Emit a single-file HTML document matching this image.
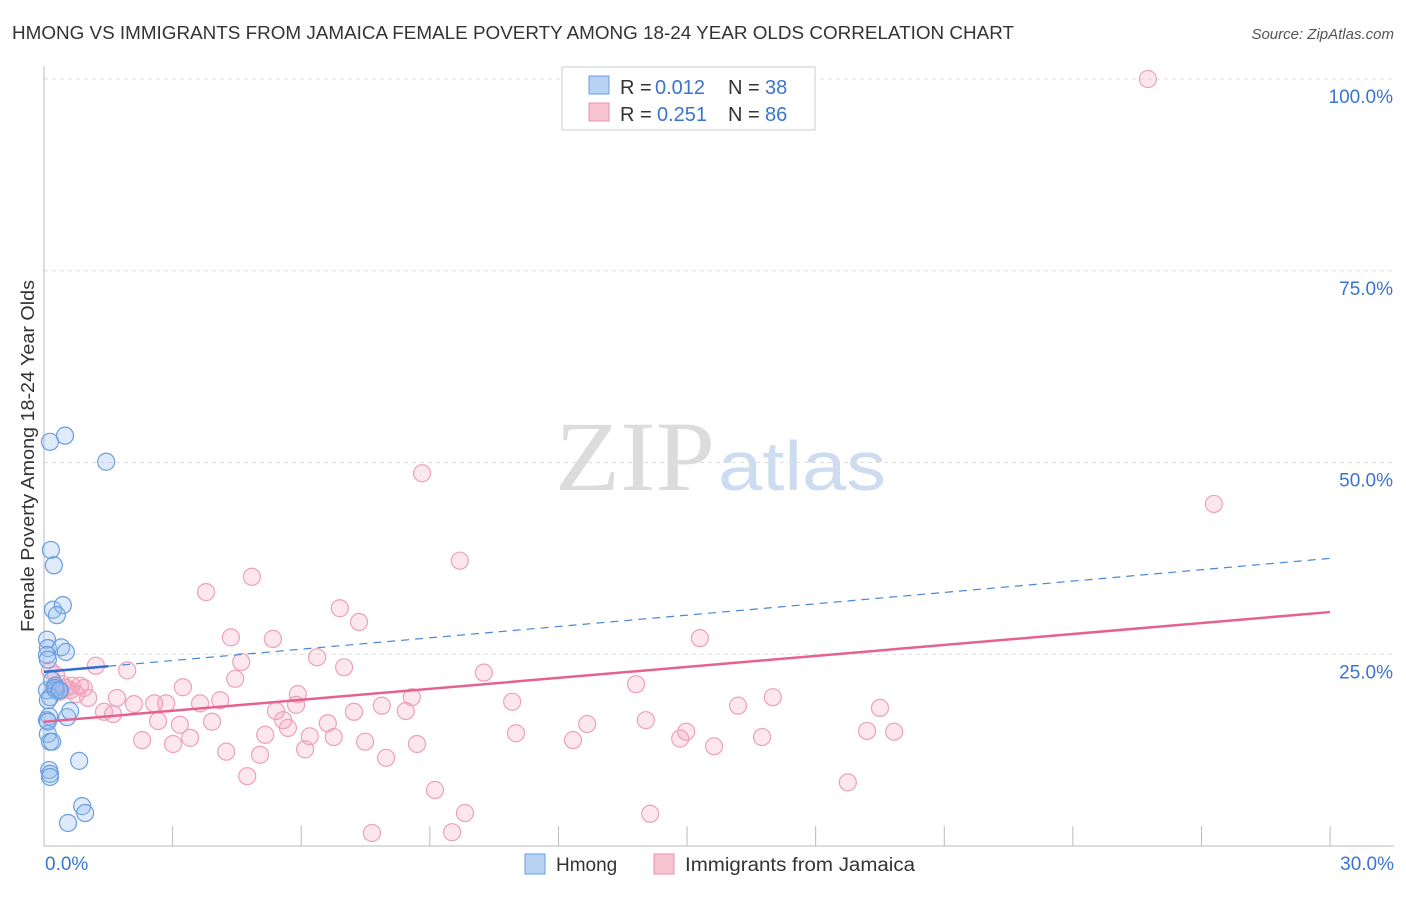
<!DOCTYPE html>
<html><head><meta charset="utf-8"><style>
body{margin:0;background:#fff;font-family:"Liberation Sans",sans-serif}
</style></head><body>
<svg id="c" width="1406" height="892" font-family="Liberation Sans, sans-serif">
<text x="12" y="39" font-size="18" fill="#333" textLength="1002" lengthAdjust="spacingAndGlyphs">HMONG VS IMMIGRANTS FROM JAMAICA FEMALE POVERTY AMONG 18-24 YEAR OLDS CORRELATION CHART</text>
<text x="1394" y="39" font-size="15" fill="#555" text-anchor="end" font-style="italic">Source: ZipAtlas.com</text>
<text x="555" y="490" font-size="100" fill="#dcdcdc" style="font-family:'Liberation Serif',serif" textLength="160" lengthAdjust="spacingAndGlyphs">ZIP</text>
<text x="718" y="490" font-size="70" fill="#cddcf0" textLength="168" lengthAdjust="spacingAndGlyphs">atlas</text>
<g id="grid"></g><g id="axes"></g><g id="marks"></g>
<text transform="translate(34,456) rotate(-90)" font-size="18" fill="#333" text-anchor="middle" textLength="352" lengthAdjust="spacingAndGlyphs">Female Poverty Among 18-24 Year Olds</text>
<g>
<rect x="562" y="67" width="253" height="63" fill="#fff" stroke="#ccc"/>
<rect x="589" y="76" width="20" height="18" fill="#b8d2f4" stroke="#6a9ee0"/>
<text x="620" y="94" font-size="20" fill="#333">R =</text><text x="655" y="94" font-size="20" fill="#3a74d0">0.012</text>
<text x="728" y="94" font-size="20" fill="#333">N =</text><text x="765" y="94" font-size="20" fill="#3a74d0">38</text>
<rect x="589" y="103" width="20" height="18" fill="#f8c4d2" stroke="#e890aa"/>
<text x="620" y="121" font-size="20" fill="#333">R =</text><text x="657" y="121" font-size="20" fill="#3a74d0">0.251</text>
<text x="728" y="121" font-size="20" fill="#333">N =</text><text x="765" y="121" font-size="20" fill="#3a74d0">86</text>
</g>
<g>
<rect x="525" y="854" width="20" height="20" fill="#b8d2f4" stroke="#6a9ee0"/>
<text x="556" y="871" font-size="19" fill="#333">Hmong</text>
<rect x="654" y="854" width="20" height="20" fill="#f8c4d2" stroke="#e890aa"/>
<text x="685" y="871" font-size="19" fill="#333" textLength="230" lengthAdjust="spacingAndGlyphs">Immigrants from Jamaica</text>
</g>
</svg>
<script>
const yTicks=[25,50,75,100];
const yTickLabels=["25.0%","50.0%","75.0%","100.0%"];
const xTicks=[0,3,6,9,12,15,18,21,24,27,30];
const xTickLabels=["0.0%","30.0%"];
const hmongX=[.14,.49,1.45,.16,.23,.21,.44,.30,.07,.09,.40,.51,.07,.09,.07,.19,.26,.35,.28,.14,.12,.07,.09,.14,.19,.82,.12,.14,.14,.89,.96,.56,.54,.61,.09,.26,.37,.09];
const hmongY=[52.7,53.5,50.1,38.6,36.6,30.8,31.4,30.1,26.9,25.8,25.9,25.3,24.9,24.3,20.3,21.6,20.9,20.3,20.3,19.4,16.9,16.4,14.6,13.6,13.6,11.1,9.9,9.4,9.0,5.2,4.3,3.0,16.8,17.6,16.2,20.6,20.3,19.0];
const jamX=[25.75,8.82,27.29,9.70,4.85,3.78,6.90,7.35,4.36,5.34,15.30,1.21,1.94,4.60,6.37,7.00,10.26,4.46,3.24,13.81,5.92,8.58,10.92,17.00,1.70,2.10,2.57,2.85,3.64,4.11,5.41,5.88,7.23,7.88,8.44,16.19,19.50,1.40,1.61,2.66,3.17,3.92,5.58,5.69,6.62,3.41,2.29,3.01,5.16,6.20,6.76,7.49,8.70,11.01,12.34,12.67,14.04,14.84,14.98,15.63,16.75,19.20,19.83,4.25,5.04,6.09,7.98,4.74,9.12,9.82,7.65,9.52,14.14,18.75,.23,.37,.51,.65,.42,.84,1.03,.14,.28,.61,.93,.75];
const jamY=[100,48.6,44.6,37.2,35.1,33.1,31.0,29.2,27.2,27.0,27.1,23.5,22.9,24.0,24.6,23.3,22.6,21.8,20.7,21.1,19.8,19.4,18.8,19.4,19.3,18.5,18.6,18.6,18.6,19.0,17.6,18.4,17.5,18.3,17.6,18.3,18.0,17.5,17.2,16.3,15.8,16.2,16.4,15.4,16.0,14.1,13.8,13.3,14.5,14.3,14.2,13.6,13.3,14.7,13.8,15.9,16.4,14.0,14.9,13.0,14.2,15.0,14.9,12.3,11.9,12.6,11.5,9.1,7.3,4.3,1.7,1.8,4.2,8.3,20.6,20.1,20.6,20.9,21.1,20.9,19.3,22.9,22.3,20.3,20.6,19.8];
const hmongTrend=[22.7,37.5];
const jamTrend=[16.2,30.5];
const X=v=>44+v*42.87, Y=v=>846-v*7.67;
const NS="http://www.w3.org/2000/svg";
function mk(tag,attrs,parent){const e=document.createElementNS(NS,tag);for(const k in attrs)e.setAttribute(k,attrs[k]);document.getElementById(parent).appendChild(e);return e;}
yTicks.forEach((t,i)=>{
 const l=mk('line',{x1:44,x2:1394,y1:Y(t),y2:Y(t),stroke:'#ddd','stroke-dasharray':'4,4'},'grid');
 
 
 const tx=mk('text',{x:1393,y:Y(t)+24,'font-size':19,fill:'#3a74d0','text-anchor':'end'},'grid');
 tx.textContent=yTickLabels[i];
 
 
});
const ax=mk('line',{x1:44,x2:44,y1:66,y2:846,stroke:'#bbb'},'axes');


const bx=mk('line',{x1:44,x2:1394,y1:846,y2:846,stroke:'#bbb'},'axes');


xTicks.forEach(t=>{
 const l=mk('line',{x1:X(t),x2:X(t),y1:826,y2:846,stroke:'#bbb'},'axes');
 
 
});
[[0,'start',45],[30,'end',1394]].forEach((d,i)=>{
 const tx=mk('text',{x:d[2],y:870,'font-size':19,fill:'#3a74d0','text-anchor':d[1]},'axes');
 tx.textContent=xTickLabels[i];
 
 
});
jamX.forEach((x,i)=>{
 const c=mk('circle',{cx:X(x),cy:Y(jamY[i]),r:8.5,fill:'rgba(244,160,186,0.25)',stroke:'#eea0b8','stroke-width':1.2},'marks');
 
 
});
hmongX.forEach((x,i)=>{
 const c=mk('circle',{cx:X(x),cy:Y(hmongY[i]),r:8.5,fill:'rgba(150,190,240,0.3)',stroke:'#6a9ee0','stroke-width':1.2},'marks');
 
 
});
const hs=(hmongTrend[1]-hmongTrend[0])/30;
const hd=mk('line',{x1:X(1.5),y1:Y(hmongTrend[0]+hs*1.5),x2:X(30),y2:Y(hmongTrend[1]),stroke:'#4a86d8','stroke-width':1.2,'stroke-dasharray':'8,6'},'marks');


const hl=mk('line',{x1:X(0),y1:Y(hmongTrend[0]),x2:X(1.5),y2:Y(hmongTrend[0]+hs*1.5),stroke:'#2f6fd0','stroke-width':2.5},'marks');


const jl=mk('line',{x1:X(0),y1:Y(jamTrend[0]),x2:X(30),y2:Y(jamTrend[1]),stroke:'#e6628e','stroke-width':2.5},'marks');


</script>
</body></html>
